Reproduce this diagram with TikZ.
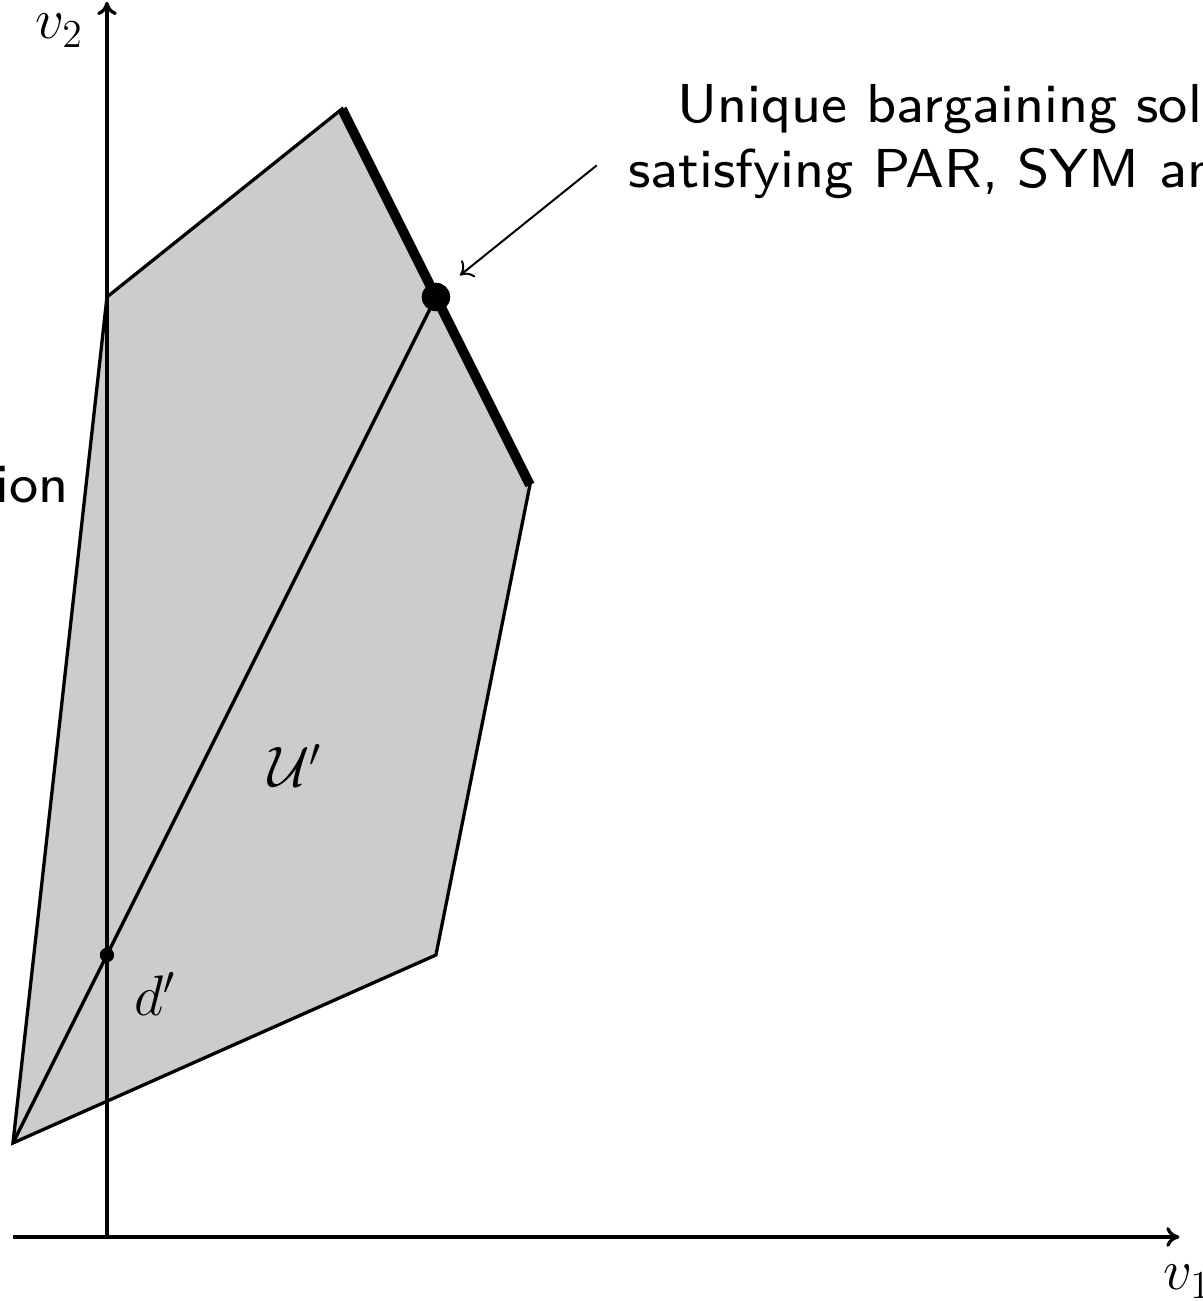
\documentclass[tikz,border=0pt]{standalone}
\usepackage{fontspec}
\newfontfamily\sften{lmsans8-regular.otf}
\usetikzlibrary{arrows.meta}
\begin{document}
\begin{tikzpicture}[x=1cm,y=1cm,
  txt/.style={inner sep=0pt,font=\fontsize{16.6}{20}\selectfont},
  stxt/.style={inner sep=0pt,font=\fontsize{16.6}{20}\selectfont\sften},
  edge/.style={line width=1pt,line join=miter},
  axis/.style={line width=1pt,-{To[length=4pt,width=6pt]}},
  pareto/.style={line width=3pt},
  bigdot/.style={circle,fill=black,inner sep=0pt,minimum size=0.3cm},
  smalldot/.style={circle,fill=black,inner sep=0pt,minimum size=0.15cm},
  pointer/.style={line width=0.6pt,-{To[length=3.5pt,width=6.5pt]}}]
\useasboundingbox (-1.138,-0.681) rectangle (11.660,13.160);
\clip (-1.138,-0.681) rectangle (11.660,13.160);
% vertices
\coordinate (A) at (-1,1);
\coordinate (B) at (0,10);
\coordinate (C) at (2.5,12);
\coordinate (D) at (4.5,8);
\coordinate (E) at (3.5,3);
\coordinate (O) at (0,0);
\coordinate (xs) at (-1,0);
\coordinate (xe) at (11.41,0);
\coordinate (ye) at (0,13.14);
% region
\fill[black!20] (A) -- (B) -- (C) -- (D) -- (E) -- cycle;
\draw[edge] (A) -- (B) -- (C) -- (D) -- (E) -- cycle;
% axes
\draw[axis] (xs) -- (xe);
\draw[axis] (O) -- (ye);
% diagonal through disagreement point
\node[smalldot] (d) at (0,3) {};
\node[bigdot] (s) at (3.5,10) {};
\draw[edge] (A) -- (s.center);
\draw[pareto] (C) -- (D);
\node[bigdot] at (s) {};
\node[smalldot] at (d) {};
% labels
\node[txt,anchor=base west] (lv2) at (-0.77,12.75) {$v_2$};
\node[txt,anchor=base west] (lv1) at (11.23,-0.56) {$v_1$};
\node[txt,anchor=base west] (ld) at (0.29,2.36) {$d'$};
\node[txt,anchor=base west] (lU) at (1.71,4.79) {$\mathcal{U}'$};
\node[stxt,anchor=base east] (lion) at (-0.40,7.81) {ion};
\node[stxt,anchor=base west] (l1) at (6.06,11.86) {Unique bargaining solution};
\node[stxt,anchor=base west] (l2) at (5.54,11.17) {satisfying PAR, SYM and IIA};
\coordinate (tail) at (5.21,11.40);
\coordinate (tip) at (3.755,10.23);
\draw[pointer] (tail) -- (tip);
\end{tikzpicture}
\end{document}
